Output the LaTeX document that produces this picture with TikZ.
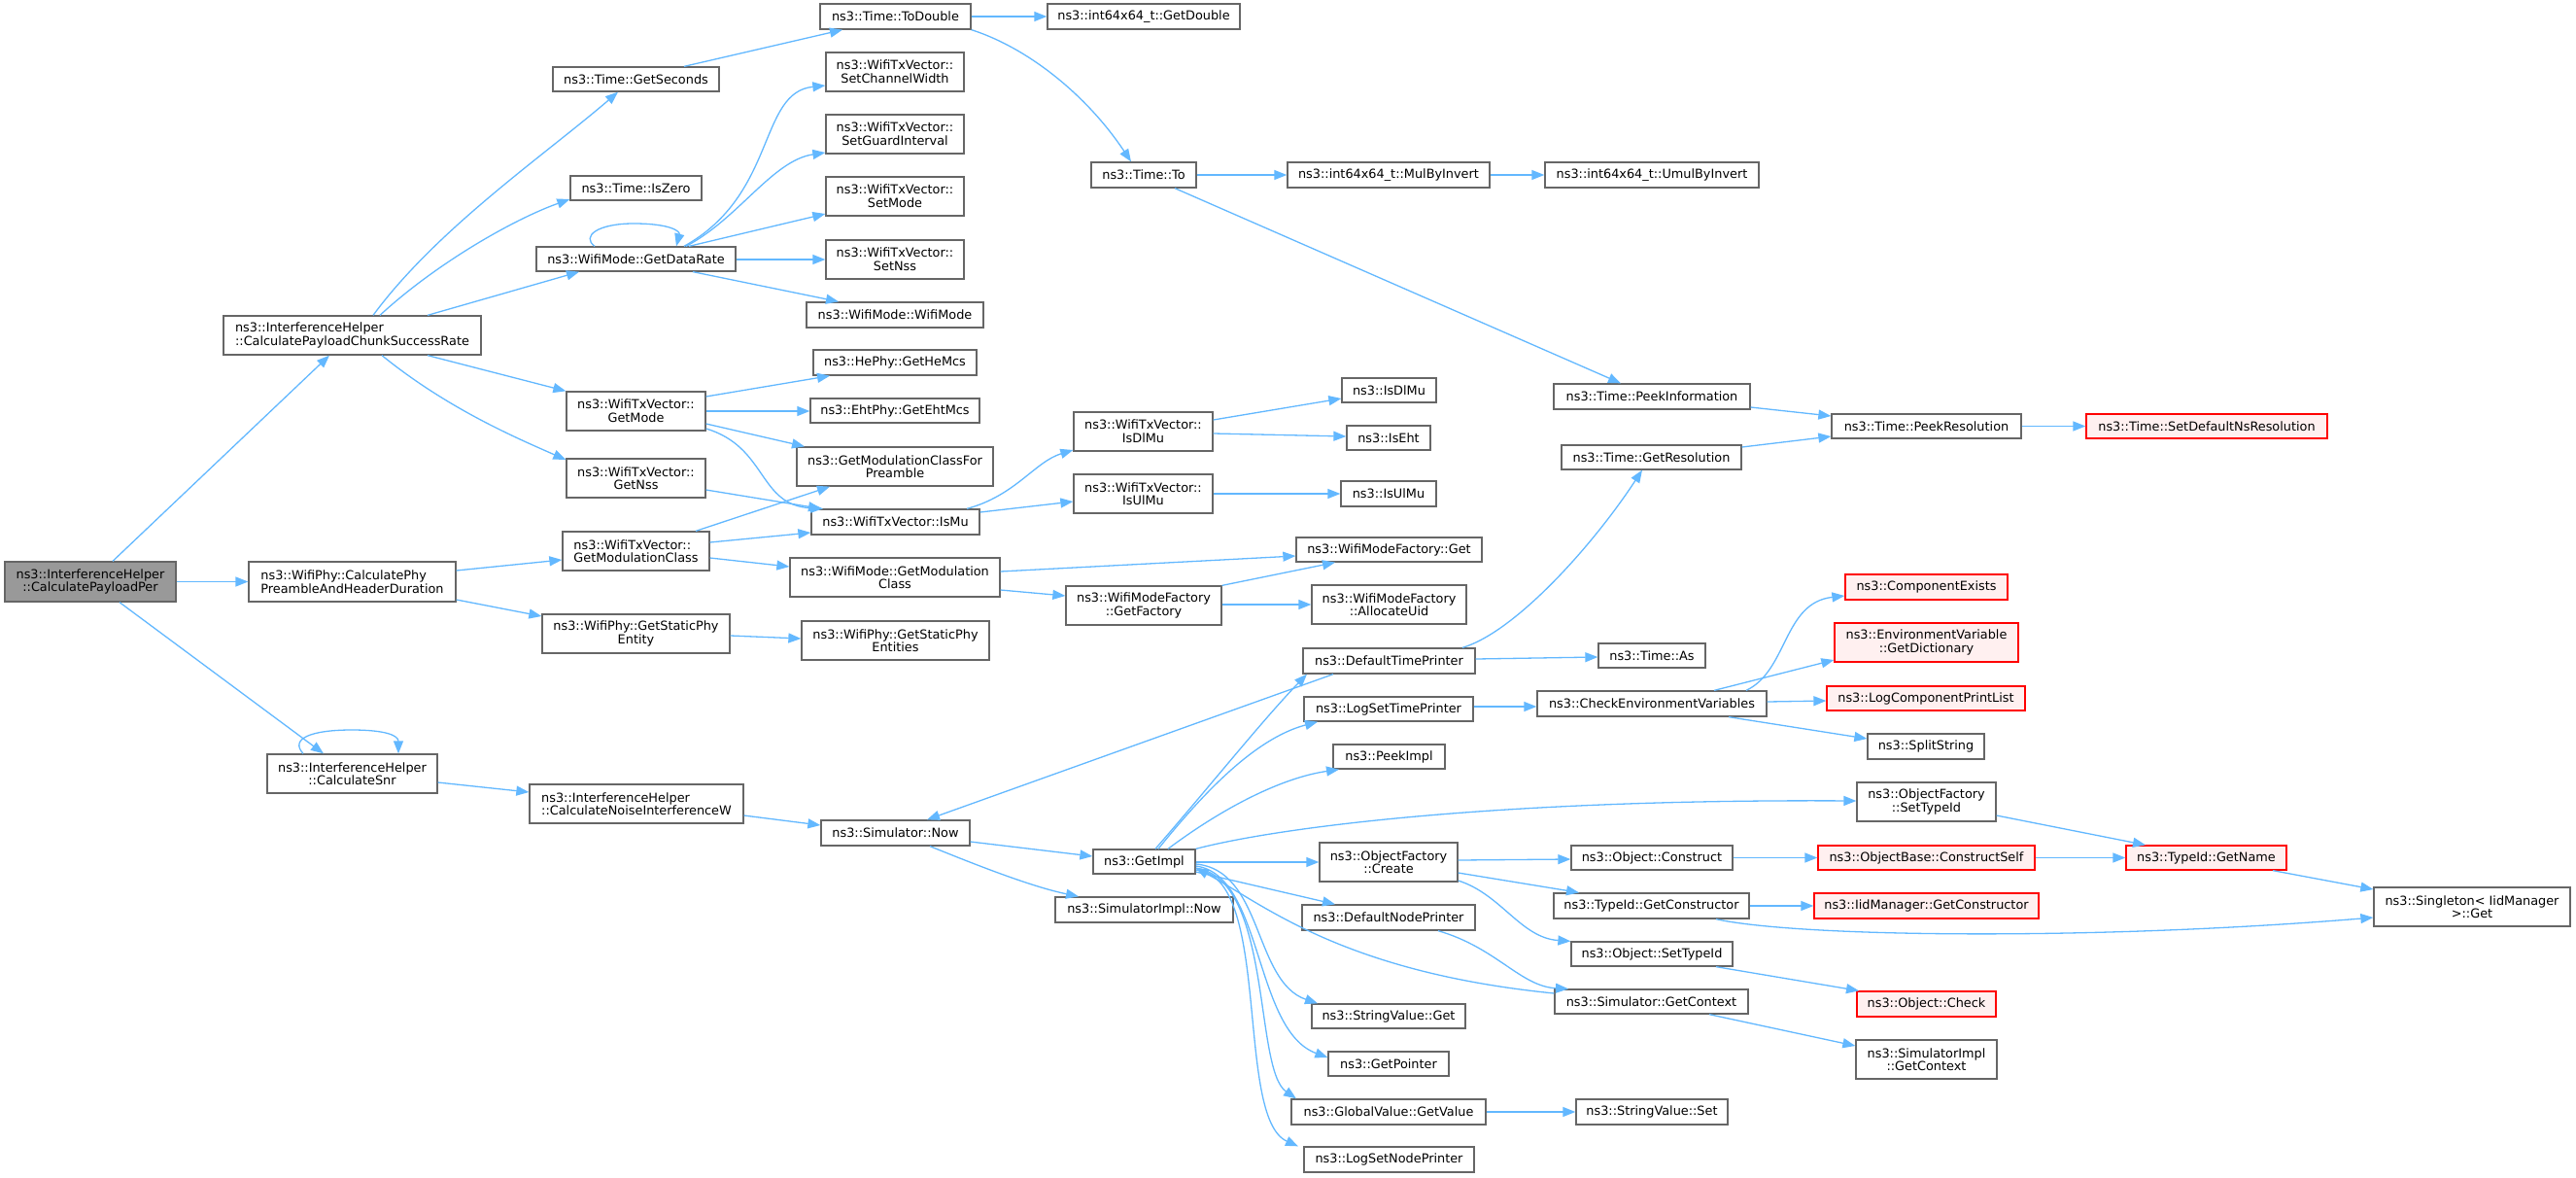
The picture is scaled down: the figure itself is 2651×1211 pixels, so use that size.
\documentclass[tikz,border=0pt]{standalone}
\usepackage{fontspec}
\setmainfont{DejaVu Sans}
\usetikzlibrary{arrows.meta}
\definecolor{edgeblue}{HTML}{63B8FF}
\definecolor{boxgray}{HTML}{666666}
\definecolor{boxred}{HTML}{FF0000}
\definecolor{redfill}{HTML}{FFF0F0}
\definecolor{rootgray}{HTML}{999999}
\newcommand\fs{\fontsize{12.85}{13.6}\selectfont}
\newcommand\nd[7]{\node[#6, minimum width={#4-#2}, minimum height={#5-#3}] (#1) at ({(#2+#4)/2},{(#3+#5)/2}) {#7};}
\begin{document}
\begin{tikzpicture}[x=1pt,y=-1pt,
 nb/.style={draw=boxgray, line width=1.3pt, fill=white, inner sep=0pt, font=\fs, align=center},
 nbl/.style={nb, align=left},
 nred/.style={nb, draw=boxred, fill=redfill},
 nroot/.style={nb, fill=rootgray},
 edge/.style={draw=edgeblue, line width=1.3pt, -{Triangle[length=13pt,width=10pt]}}]
\useasboundingbox (0,0) rectangle (2651,1211);
% nodes
\nd{root}{5}{578}{181}{619}{nroot}{ns3::InterferenceHelper\\::CalculatePayloadPer}
\nd{chunk}{230}{325}{495}{365}{nbl}{ns3::InterferenceHelper\\::CalculatePayloadChunkSuccessRate}
\nd{calcphy}{256}{578}{469}{619}{nbl}{ns3::WifiPhy::CalculatePhy\\PreambleAndHeaderDuration}
\nd{snr}{275}{776}{450}{816}{nb}{ns3::InterferenceHelper\\::CalculateSnr}
\nd{noise}{545}{807}{765}{847}{nbl}{ns3::InterferenceHelper\\::CalculateNoiseInterferenceW}
\nd{getsec}{569}{69}{740}{94}{nb}{ns3::Time::GetSeconds}
\nd{iszero}{587}{181}{722}{206}{nb}{ns3::Time::IsZero}
\nd{getdr}{552}{254}{757}{279}{nb}{ns3::WifiMode::GetDataRate}
\nd{getmode}{583}{403}{726}{443}{nb}{ns3::WifiTxVector::\\GetMode}
\nd{getnss}{583}{472}{726}{512}{nb}{ns3::WifiTxVector::\\GetNss}
\nd{getmc}{579}{547}{730}{587}{nbl}{ns3::WifiTxVector::\\GetModulationClass}
\nd{gspe}{558}{632}{751}{672}{nb}{ns3::WifiPhy::GetStaticPhy\\Entity}
\nd{todouble}{844}{4}{999}{30}{nb}{ns3::Time::ToDouble}
\nd{getdouble}{1078}{4}{1276}{30}{nb}{ns3::int64x64\_t::GetDouble}
\nd{setcw}{850}{54}{992}{94}{nb}{ns3::WifiTxVector::\\SetChannelWidth}
\nd{setgi}{850}{118}{992}{158}{nb}{ns3::WifiTxVector::\\SetGuardInterval}
\nd{setmode}{850}{182}{992}{222}{nb}{ns3::WifiTxVector::\\SetMode}
\nd{setnss}{850}{247}{992}{287}{nb}{ns3::WifiTxVector::\\SetNss}
\nd{wifimode}{830}{311}{1012}{337}{nb}{ns3::WifiMode::WifiMode}
\nd{hemcs}{837}{360}{1005}{386}{nb}{ns3::HePhy::GetHeMcs}
\nd{ehtmcs}{834}{410}{1008}{435}{nb}{ns3::EhtPhy::GetEhtMcs}
\nd{forpre}{820}{460}{1022}{500}{nb}{ns3::GetModulationClassFor\\Preamble}
\nd{ismu}{835}{524}{1008}{550}{nb}{ns3::WifiTxVector::IsMu}
\nd{wmgmc}{813}{574}{1029}{614}{nb}{ns3::WifiMode::GetModulation\\Class}
\nd{gspes}{825}{639}{1018}{679}{nb}{ns3::WifiPhy::GetStaticPhy\\Entities}
\nd{timeto}{1123}{167}{1231}{193}{nb}{ns3::Time::To}
\nd{mulinv}{1325}{167}{1533}{193}{nb}{ns3::int64x64\_t::MulByInvert}
\nd{umulinv}{1590}{167}{1810}{193}{nb}{ns3::int64x64\_t::UmulByInvert}
\nd{txdlmu}{1105}{424}{1248}{464}{nb}{ns3::WifiTxVector::\\IsDlMu}
\nd{txulmu}{1105}{488}{1248}{528}{nb}{ns3::WifiTxVector::\\IsUlMu}
\nd{isdlmu}{1381}{389}{1478}{414}{nb}{ns3::IsDlMu}
\nd{iseht}{1386}{438}{1472}{463}{nb}{ns3::IsEht}
\nd{isulmu}{1380}{495}{1478}{521}{nb}{ns3::IsUlMu}
\nd{wmfget}{1334}{553}{1525}{578}{nb}{ns3::WifiModeFactory::Get}
\nd{getfact}{1097}{603}{1257}{643}{nb}{ns3::WifiModeFactory\\::GetFactory}
\nd{alloc}{1350}{602}{1509}{642}{nb}{ns3::WifiModeFactory\\::AllocateUid}
\nd{peekinfo}{1599}{395}{1801}{421}{nb}{ns3::Time::PeekInformation}
\nd{peekres}{1885}{426}{2080}{451}{nb}{ns3::Time::PeekResolution}
\nd{setdef}{2147}{426}{2395}{451}{nred}{ns3::Time::SetDefaultNsResolution}
\nd{getres}{1607}{458}{1792}{483}{nb}{ns3::Time::GetResolution}
\nd{dtp}{1341}{667}{1518}{693}{nb}{ns3::DefaultTimePrinter}
\nd{timeas}{1645}{662}{1755}{687}{nb}{ns3::Time::As}
\nd{lstp}{1342}{717}{1516}{742}{nb}{ns3::LogSetTimePrinter}
\nd{checkenv}{1582}{711}{1818}{737}{nb}{ns3::CheckEnvironmentVariables}
\nd{compex}{1899}{591}{2066}{617}{nred}{ns3::ComponentExists}
\nd{getdict}{1888}{641}{2077}{681}{nred}{ns3::EnvironmentVariable\\::GetDictionary}
\nd{lcpl}{1880}{706}{2084}{731}{nred}{ns3::LogComponentPrintList}
\nd{split}{1922}{755}{2042}{781}{nb}{ns3::SplitString}
\nd{peekimpl}{1372}{766}{1487}{791}{nb}{ns3::PeekImpl}
\nd{simnow}{845}{844}{998}{870}{nb}{ns3::Simulator::Now}
\nd{getimpl}{1125}{874}{1230}{899}{nb}{ns3::GetImpl}
\nd{simimplnow}{1086}{923}{1269}{949}{nb}{ns3::SimulatorImpl::Now}
\nd{ofsettid}{1911}{805}{2054}{845}{nb}{ns3::ObjectFactory\\::SetTypeId}
\nd{create}{1358}{867}{1500}{907}{nb}{ns3::ObjectFactory\\::Create}
\nd{dnp}{1340}{931}{1518}{957}{nb}{ns3::DefaultNodePrinter}
\nd{svget}{1350}{1033}{1508}{1058}{nb}{ns3::StringValue::Get}
\nd{getptr}{1367}{1082}{1491}{1107}{nb}{ns3::GetPointer}
\nd{gvget}{1329}{1131}{1529}{1157}{nb}{ns3::GlobalValue::GetValue}
\nd{lsnp}{1342}{1180}{1517}{1206}{nb}{ns3::LogSetNodePrinter}
\nd{objcons}{1617}{870}{1783}{895}{nb}{ns3::Object::Construct}
\nd{conself}{1871}{870}{2094}{895}{nred}{ns3::ObjectBase::ConstructSelf}
\nd{tgc}{1599}{919}{1800}{945}{nb}{ns3::TypeId::GetConstructor}
\nd{iidgc}{1867}{919}{2098}{945}{nred}{ns3::IidManager::GetConstructor}
\nd{objstid}{1617}{969}{1783}{994}{nb}{ns3::Object::SetTypeId}
\nd{simgc}{1600}{1018}{1799}{1043}{nb}{ns3::Simulator::GetContext}
\nd{objcheck}{1911}{1020}{2054}{1046}{nred}{ns3::Object::Check}
\nd{simimplgc}{1910}{1070}{2055}{1110}{nb}{ns3::SimulatorImpl\\::GetContext}
\nd{svset}{1622}{1131}{1778}{1157}{nb}{ns3::StringValue::Set}
\nd{getname}{2188}{870}{2353}{895}{nred}{ns3::TypeId::GetName}
\nd{singleton}{2443}{913}{2645}{953}{nb}{ns3::Singleton< IidManager\\ >::Get}
% edges
\draw[edge] (root.north -| 116,0) -- (chunk.south -| 339,0);
\draw[edge] (root.east) -- (calcphy.west);
\draw[edge] (root.south -| 123,0) -- (snr.north -| 333,0);
\draw[edge] (snr.north -| 312,0) .. controls (298,760) and (320,751) .. (362,751) .. controls (398,751) and (410,757) .. (snr.north -| 410,0);
\draw[edge] (snr.east |- 0,805) -- (noise.west |- 0,815);
\draw[edge] (noise.east |- 0,839) -- (simnow.west |- 0,849);
\draw[edge] (simnow.east |- 0,866) -- (getimpl.west |- 0,881);
\draw[edge] (simnow.south -| 957,0) .. controls (1000,888) and (1060,912) .. (simimplnow.north -| 1110,0);
\draw[edge] (chunk.north -| 384,0) .. controls (450,235) and (560,160) .. (getsec.south -| 636,0);
\draw[edge] (chunk.north -| 391,0) .. controls (450,270) and (530,225) .. (iszero.west |- 0,205);
\draw[edge] (chunk.north -| 440,0) -- (getdr.south -| 596,0);
\draw[edge] (chunk.south -| 440,0) -- (getmode.north west);
\draw[edge] (chunk.south -| 393,0) .. controls (460,420) and (530,450) .. (getnss.west |- 0,473);
\draw[edge] (getsec.north -| 704,0) -- (todouble.south -| 867,0);
\draw[edge] (todouble.east) -- (getdouble.west);
\draw[edge] (todouble.south east) .. controls (1060,50) and (1120,100) .. (timeto.north -| 1164,0);
\draw[edge] (timeto.east) -- (mulinv.west);
\draw[edge] (mulinv.east) -- (umulinv.west);
\draw[edge] (timeto.south -| 1209,0) -- (peekinfo.north -| 1668,0);
\draw[edge] (peekinfo.east |- 0,419) -- (peekres.west |- 0,428);
\draw[edge] (getres.east |- 0,460) -- (peekres.west |- 0,449);
\draw[edge] (peekres.east) -- (setdef.west);
\draw[edge] (getdr.north -| 612,0) .. controls (598,243) and (615,230) .. (652,230) .. controls (690,230) and (700,238) .. (getdr.north -| 696,0);
\draw[edge] (getdr.north -| 704,0) .. controls (800,200) and (780,95) .. (setcw.west |- 0,88);
\draw[edge] (getdr.north -| 706,0) .. controls (760,225) and (795,165) .. (setgi.west |- 0,157);
\draw[edge] (getdr.north -| 709,0) -- (setmode.west |- 0,220);
\draw[edge] (getdr.east |- 0,267) -- (setnss.west |- 0,267);
\draw[edge] (getdr.south -| 713,0) -- (wifimode.north -| 863,0);
\draw[edge] (getmode.east |- 0,408) -- (hemcs.south -| 854,0);
\draw[edge] (getmode.east |- 0,423) -- (ehtmcs.west |- 0,423);
\draw[edge] (getmode.east |- 0,436) -- (forpre.north -| 828,0);
\draw[edge] (getmode.east |- 0,441) .. controls (790,460) and (780,520) .. (ismu.north -| 847,0);
\draw[edge] (getnss.east |- 0,504) -- (ismu.north -| 845,0);
\draw[edge] (getmc.north -| 716,0) -- (forpre.south -| 854,0);
\draw[edge] (getmc.east |- 0,558) -- (ismu.west |- 0,548);
\draw[edge] (getmc.east |- 0,574) -- (wmgmc.west |- 0,583);
\draw[edge] (calcphy.east |- 0,587) -- (getmc.west |- 0,576);
\draw[edge] (calcphy.east |- 0,617) -- (gspe.west |- 0,634);
\draw[edge] (gspe.east |- 0,654) -- (gspes.west |- 0,657);
\draw[edge] (ismu.north -| 995,0) .. controls (1045,510) and (1065,475) .. (txdlmu.west |- 0,463);
\draw[edge] (ismu.east |- 0,527) -- (txulmu.west |- 0,516);
\draw[edge] (txdlmu.east |- 0,432) -- (isdlmu.west |- 0,410);
\draw[edge] (txdlmu.east |- 0,446) -- (iseht.west |- 0,449);
\draw[edge] (txulmu.east |- 0,508) -- (isulmu.west |- 0,508);
\draw[edge] (wmgmc.east |- 0,588) -- (wmfget.west |- 0,572);
\draw[edge] (wmgmc.east |- 0,607) -- (getfact.west |- 0,613);
\draw[edge] (getfact.north east) -- (wmfget.south -| 1374,0);
\draw[edge] (getfact.east |- 0,622) -- (alloc.west |- 0,622);
\draw[edge] (dtp.north -| 1505,0) .. controls (1560,650) and (1640,560) .. (getres.south -| 1690,0);
\draw[edge] (dtp.east |- 0,678) -- (timeas.west |- 0,676);
\draw[edge] (dtp.south -| 1372,0) -- (simnow.north -| 954,0);
\draw[edge] (lstp.east |- 0,727) -- (checkenv.west |- 0,727);
\draw[edge] (checkenv.north -| 1797,0) .. controls (1840,690) and (1835,620) .. (compex.west |- 0,613);
\draw[edge] (checkenv.north -| 1764,0) -- (getdict.west |- 0,679);
\draw[edge] (checkenv.east |- 0,722) -- (lcpl.west |- 0,721);
\draw[edge] (checkenv.south -| 1779,0) -- (split.west |- 0,760);
\draw[edge] (getimpl.north -| 1189,0) .. controls (1240,815) and (1300,740) .. (dtp.south -| 1345,0);
\draw[edge] (getimpl.north -| 1192,0) .. controls (1235,820) and (1290,760) .. (lstp.south -| 1356,0);
\draw[edge] (getimpl.north -| 1202,0) .. controls (1260,830) and (1320,800) .. (peekimpl.south -| 1378,0);
\draw[edge] (getimpl.north east) .. controls (1320,850) and (1550,822) .. (ofsettid.west |- 0,824);
\draw[edge] (getimpl.east |- 0,887) -- (create.west |- 0,887);
\draw[edge] (getimpl.east |- 0,897) -- (dnp.north -| 1374,0);
\draw[edge] (getimpl.east |- 0,889) .. controls (1300,895) and (1290,1010) .. (svget.north -| 1356,0);
\draw[edge] (getimpl.east |- 0,891) .. controls (1300,900) and (1290,1060) .. (getptr.west |- 0,1088);
\draw[edge] (getimpl.east |- 0,893) .. controls (1310,905) and (1290,1100) .. (gvget.north -| 1334,0);
\draw[edge] (getimpl.east |- 0,895) .. controls (1310,900) and (1270,1150) .. (lsnp.north -| 1336,0);
\draw[edge] (simgc.west |- 0,1022) .. controls (1380,1000) and (1300,930) .. (getimpl.east |- 0,893);
\draw[edge] (dnp.south -| 1480,0) .. controls (1540,975) and (1565,1015) .. (simgc.north -| 1614,0);
\draw[edge] (create.east |- 0,885) -- (objcons.west |- 0,884);
\draw[edge] (create.east |- 0,898) -- (tgc.north -| 1625,0);
\draw[edge] (create.east |- 0,906) .. controls (1545,920) and (1565,965) .. (objstid.north west);
\draw[edge] (objcons.east) -- (conself.west);
\draw[edge] (tgc.east) -- (iidgc.west);
\draw[edge] (tgc.south -| 1766,0) .. controls (1850,964) and (2150,968) .. (singleton.west |- 0,944);
\draw[edge] (objstid.south -| 1766,0) -- (objcheck.north -| 1913,0);
\draw[edge] (simgc.south -| 1759,0) -- (simimplgc.west |- 0,1076);
\draw[edge] (gvget.east |- 0,1144) -- (svset.west |- 0,1144);
\draw[edge] (ofsettid.east |- 0,839) -- (getname.north -| 2208,0);
\draw[edge] (conself.east) -- (getname.west);
\draw[edge] (getname.south -| 2339,0) -- (singleton.west |- 0,915);
\end{tikzpicture}
\end{document}
